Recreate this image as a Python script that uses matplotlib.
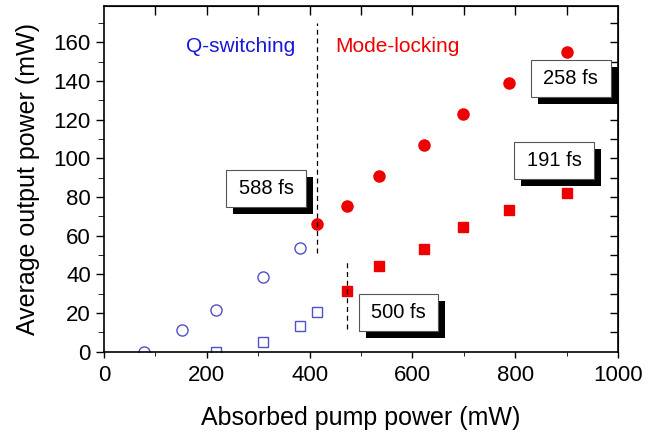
import matplotlib.pyplot as plt
from matplotlib.ticker import MultipleLocator
from matplotlib.path import Path
import matplotlib.patheffects as pe

plt.rcParams['font.family'] = ['Liberation Sans', 'DejaVu Sans']

# Q-switching regime (open blue markers)
qs_circle_x = [78, 152, 217, 309, 381]
qs_circle_y = [0, 11, 21.7, 38.6, 53.6]
qs_square_x = [217, 309, 381, 415]
qs_square_y = [0, 5, 13.1, 20.2]

# Mode-locking regime (filled red markers)
ml_circle_x = [415, 473, 535, 622, 698, 788, 900]
ml_circle_y = [65.9, 75.2, 90.9, 106.8, 123, 139.1, 155.2]
ml_square_x = [473, 535, 622, 698, 788, 900]
ml_square_y = [31.2, 44.3, 53.3, 64.2, 73.2, 82.1]

# threshold lines (x, y from, y to)
thresh_circle = (415, 51, 170)
thresh_square = (473, 11.5, 48)

# pulse duration labels
pulse_labels = ["588 fs", "258 fs", "191 fs", "500 fs"]
pulse_x = [316, 908, 876, 573]
pulse_y = [84.3, 141.5, 98.9, 20.1]

blue = '#5050c8'
red = '#ee0000'


def wide_box(x0, y0, width, height, mutation_size):
    # rectangle, more padding left/right than top/bottom
    px, py = 0.62 * mutation_size, 0.45 * mutation_size
    x0, y0 = x0 - px, y0 - py
    x1, y1 = x0 + width + 2 * px, y0 + height + 2 * py
    return Path([(x0, y0), (x1, y0), (x1, y1), (x0, y1), (x0, y0)], closed=True)


fig = plt.figure(figsize=(6.55, 4.33), dpi=100)
ax = fig.add_axes([0.1588, 0.1882, 0.7847, 0.7986])

ax.plot(qs_circle_x, qs_circle_y, 'o', mfc='none', mec=blue, ms=8, mew=1)
ax.plot(qs_square_x, qs_square_y, 's', mfc='none', mec=blue, ms=7, mew=1)
ax.plot(ml_circle_x, ml_circle_y, 'o', color=red, ms=8)
ax.plot(ml_square_x, ml_square_y, 's', color=red, ms=7)

ax.vlines(thresh_circle[0], thresh_circle[1], thresh_circle[2], colors='black',
          linestyles=(0, (4, 3)), lw=0.9)
ax.vlines(thresh_square[0], thresh_square[1], thresh_square[2], colors='black',
          linestyles=(0, (4, 3)), lw=0.9)

ax.text(266, 158, "Q-switching", color='#1818d8', fontsize=15, ha='center', va='center')
ax.text(571, 158, "Mode-locking", color=red, fontsize=15, ha='center', va='center')

for lab, x, y in zip(pulse_labels, pulse_x, pulse_y):
    t = ax.text(x, y, lab, fontsize=14.5, ha='center', va='center', zorder=5,
                clip_on=True,
                bbox=dict(boxstyle=wide_box, fc='white', ec='#555555', lw=0.8))
    t.get_bbox_patch().set_path_effects([
        pe.SimplePatchShadow(offset=(5, -5), shadow_rgbFace='black', alpha=1.0),
        pe.Normal()])

ax.set_xlim(0, 1000)
ax.set_ylim(0, 179)
ax.xaxis.set_major_locator(MultipleLocator(200))
ax.xaxis.set_minor_locator(MultipleLocator(100))
ax.yaxis.set_major_locator(MultipleLocator(20))
ax.yaxis.set_minor_locator(MultipleLocator(10))
ax.set_yticks(range(0, 161, 20))
ax.tick_params(axis='both', which='major', labelsize=16, direction='out', width=1)
ax.tick_params(axis='x', which='major', length=4, pad=6)
ax.tick_params(axis='x', which='minor', length=3)
ax.tick_params(axis='y', which='major', length=6)
ax.tick_params(axis='y', which='minor', length=4)
for s in ax.spines.values():
    s.set_linewidth(1.2)

top = ax.secondary_xaxis('top')
top.set_xticks(range(100, 1000, 100))
top.tick_params(direction='in', length=6.5, labeltop=False, width=1)
right = ax.secondary_yaxis('right')
right.set_yticks(range(10, 180, 10))
right.tick_params(direction='in', length=6, labelright=False, width=1)

ax.set_xlabel("Absorbed pump power (mW)", fontsize=18, labelpad=14)
ax.set_ylabel("Average output power (mW)", fontsize=18, labelpad=10)

fig.savefig("out.png", dpi=100)
